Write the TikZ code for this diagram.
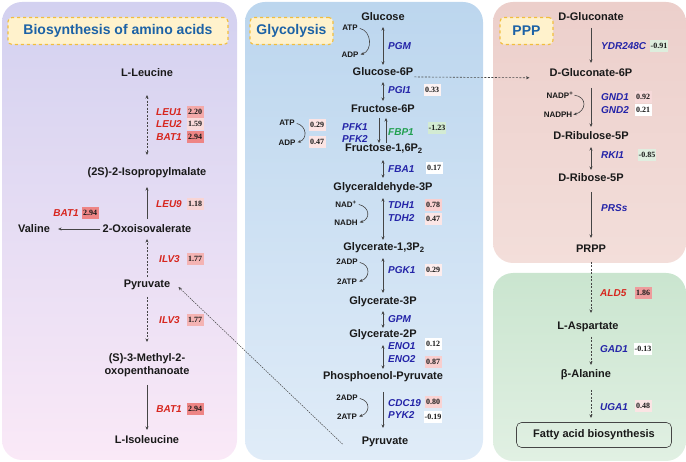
\documentclass[tikz,border=0pt]{standalone}
\usepackage{fontspec}
\setmainfont{Liberation Sans}
\newfontfamily\numfont{Liberation Serif}
\usepackage{tikz}
\usetikzlibrary{arrows.meta,shapes}
\definecolor{cRed}{HTML}{D7261E}
\definecolor{cBlue}{HTML}{2424A8}
\definecolor{cGreen}{HTML}{21A04F}
\definecolor{cLine}{HTML}{454545}
\definecolor{cTitle}{HTML}{1C62A6}
\definecolor{cEdge}{HTML}{F2BE3C}
\definecolor{cFill}{HTML}{FFF2CC}
\tikzset{metab/.style={font=\fontsize{11}{13}\selectfont\bfseries, inner sep=0pt},
  gene/.style={font=\fontsize{10}{12}\selectfont\bfseries\itshape, text=cBlue, inner sep=0pt},
  genered/.style={gene, text=cRed},
  genegreen/.style={gene, text=cGreen},
  fcbox/.style={font=\numfont\fontsize{8}{9}\selectfont\bfseries, minimum width=17pt, minimum height=12.5pt, inner sep=0.5pt},
  cofac/.style={font=\fontsize{8}{9}\selectfont\bfseries, inner sep=0pt},
  headbox/.style={draw=cEdge, dashed, line width=1.1pt, fill=cFill, rounded corners=4pt, minimum height=27pt, font=\fontsize{14}{16}\selectfont\bfseries, text=cTitle},
  rxn/.style={draw=cLine, line width=0.6pt},
  rxndash/.style={rxn, dash pattern=on 2pt off 1.5pt}}

\begin{document}
\begin{tikzpicture}[x=1pt, y=-1pt, >={Stealth[length=3.5pt,width=3pt]},
    every node/.style={text=black!90}]
  \useasboundingbox (0,0) rectangle (686,462);
  \shade[top color={rgb,255:red,211;green,209;blue,240}, bottom color={rgb,255:red,250;green,233;blue,247}, rounded corners=20pt] (2,2) rectangle (237,460);
  \shade[top color={rgb,255:red,188;green,214;blue,238}, bottom color={rgb,255:red,224;green,236;blue,248}, rounded corners=20pt] (245,2) rectangle (483,460);
  \shade[top color={rgb,255:red,236;green,207;blue,203}, bottom color={rgb,255:red,243;green,222;blue,218}, rounded corners=20pt] (493,2) rectangle (686,263);
  \shade[top color={rgb,255:red,202;green,229;blue,207}, bottom color={rgb,255:red,225;green,240;blue,227}, rounded corners=20pt] (493,273) rectangle (686,461);

  \node[headbox, minimum width=220pt] (hA) at (118,31) {Biosynthesis of amino acids};
  \node[headbox, minimum width=83pt] (hB) at (291.5,31) {Glycolysis};
  \node[headbox, minimum width=53pt] (hC) at (526.5,31) {PPP};

  \node[metab] (leu) at (147,73) {L-Leucine};
  \node[metab] (ipm) at (147,173) {(2S)-2-Isopropylmalate};
  \node[metab] (oxo) at (147,229) {2-Oxoisovalerate};
  \node[metab] (val) at (34,229) {Valine};
  \node[metab] (pyrA) at (147,285) {Pyruvate};
  \node[metab, align=center] (mop) at (147,365) {(S)-3-Methyl-2-\\oxopenthanoate};
  \node[metab] (ile) at (147,440) {L-Isoleucine};

  \node[genered, anchor=east] (leu1) at (182,112) {LEU1};
  \node[fcbox, fill={rgb,255:red,244;green,169;blue,169}] (leu1v) at (195,112) {2.20};
  \node[genered, anchor=east] (leu2) at (182,124) {LEU2};
  \node[fcbox, fill={rgb,255:red,249;green,218;blue,218}] (leu2v) at (195,124) {1.59};
  \node[genered, anchor=east] (bat1a) at (182,137) {BAT1};
  \node[fcbox, fill={rgb,255:red,238;green,133;blue,133}] (bat1av) at (195,137) {2.94};
  \node[genered, anchor=east] (leu9) at (182,204) {LEU9};
  \node[fcbox, fill={rgb,255:red,248;green,213;blue,213}] (leu9v) at (195,204) {1.18};
  \node[genered, anchor=east] (bat1b) at (79,213) {BAT1};
  \node[fcbox, fill={rgb,255:red,238;green,133;blue,133}] (bat1bv) at (90,213) {2.94};
  \node[genered, anchor=east] (ilv3a) at (180,259) {ILV3};
  \node[fcbox, fill={rgb,255:red,244;green,179;blue,179}] (ilv3av) at (195,259) {1.77};
  \node[genered, anchor=east] (ilv3b) at (180,320) {ILV3};
  \node[fcbox, fill={rgb,255:red,244;green,179;blue,179}] (ilv3bv) at (195,320) {1.77};
  \node[genered, anchor=east] (bat1c) at (182,409) {BAT1};
  \node[fcbox, fill={rgb,255:red,238;green,133;blue,133}] (bat1cv) at (195,409) {2.94};

  \draw[rxndash, <->, shorten <=22pt, shorten >=18pt] (leu.center) -- (ipm.center);
  \draw[rxn, ->, shorten <=10pt, shorten >=14pt] (oxo.center) -- (ipm.center);
  \draw[rxn, ->, shorten <=2pt, shorten >=8pt] (oxo.west) -- (val.east);
  \draw[rxndash, ->, shorten <=8pt, shorten >=10pt] (pyrA.center) -- (oxo.center);
  \draw[rxndash, ->, shorten <=12pt, shorten >=23pt] (pyrA.center) -- (mop.center);
  \draw[rxn, ->, shorten <=20pt, shorten >=10pt] (mop.center) -- (ile.center);

  \node[metab] (glc) at (383,17) {Glucose};
  \node[metab] (g6p) at (383,72) {Glucose-6P};
  \node[metab] (f6p) at (383,109) {Fructose-6P};
  \node[metab] (fbp) at (384,149) {Fructose-1,6P\textsubscript{2}};
  \node[metab] (gap) at (383,188) {Glyceraldehyde-3P};
  \node[metab] (bpg) at (384,248) {Glycerate-1,3P\textsubscript{2}};
  \node[metab] (g3p) at (383,302) {Glycerate-3P};
  \node[metab] (g2p) at (383,335) {Glycerate-2P};
  \node[metab] (pep) at (383,377) {Phosphoenol-Pyruvate};
  \node[metab] (pyr) at (385,442) {Pyruvate};

  \node[cofac] (atp1) at (350,28) {ATP};
  \node[cofac] (adp1) at (350,55) {ADP};
  \node[cofac] (atp2) at (287,123) {ATP};
  \node[cofac] (adp2) at (287,143) {ADP};
  \node[cofac] (nad) at (346,204) {NAD\textsuperscript{+}};
  \node[cofac] (nadh) at (346,223) {NADH};
  \node[cofac] (adp3) at (347,262) {2ADP};
  \node[cofac] (atp3) at (347,282) {2ATP};
  \node[cofac] (adp4) at (347,398) {2ADP};
  \node[cofac] (atp4) at (347,417) {2ATP};

  \node[gene, anchor=west] (pgm) at (388,46) {PGM};
  \node[gene, anchor=west] (pgi1) at (388,90) {PGI1};
  \node[fcbox, fill={rgb,255:red,253;green,243;blue,243}] (pgi1v) at (432,90) {0.33};
  \node[gene, anchor=east] (pfk1) at (368,127) {PFK1};
  \node[gene, anchor=east] (pfk2) at (368,139) {PFK2};
  \node[fcbox, fill={rgb,255:red,252;green,228;blue,228}] (pfk1v) at (317,125) {0.29};
  \node[fcbox, fill={rgb,255:red,252;green,228;blue,228}] (pfk2v) at (317,142) {0.47};
  \node[genegreen, anchor=west] (fbp1) at (388,132) {FBP1};
  \node[fcbox, fill={rgb,255:red,211;green,235;blue,211}] (fbp1v) at (437,128) {-1.23};
  \node[gene, anchor=west] (fba1) at (388,169) {FBA1};
  \node[fcbox, fill=white] (fba1v) at (434,168) {0.17};
  \node[gene, anchor=west] (tdh1) at (388,205) {TDH1};
  \node[fcbox, fill={rgb,255:red,249;green,208;blue,208}] (tdh1v) at (433,205) {0.78};
  \node[gene, anchor=west] (tdh2) at (388,218) {TDH2};
  \node[fcbox, fill={rgb,255:red,252;green,230;blue,230}] (tdh2v) at (433,219) {0.47};
  \node[gene, anchor=west] (pgk1) at (388,270) {PGK1};
  \node[fcbox, fill={rgb,255:red,253;green,237;blue,237}] (pgk1v) at (433,270) {0.29};
  \node[gene, anchor=west] (gpm) at (388,319) {GPM};
  \node[gene, anchor=west] (eno1) at (388,346) {ENO1};
  \node[fcbox, fill=white] (eno1v) at (433,344) {0.12};
  \node[gene, anchor=west] (eno2) at (388,359) {ENO2};
  \node[fcbox, fill={rgb,255:red,248;green,206;blue,206}] (eno2v) at (433,362) {0.87};
  \node[gene, anchor=west] (cdc19) at (388,403) {CDC19};
  \node[fcbox, fill={rgb,255:red,249;green,211;blue,211}] (cdc19v) at (433,402) {0.80};
  \node[gene, anchor=west] (pyk2) at (388,415) {PYK2};
  \node[fcbox, fill=white] (pyk2v) at (433,417) {-0.19};

  \draw[rxn, <->, shorten <=10pt, shorten >=7pt] (glc.center) -- (g6p.center);
  \draw[rxn, <->, shorten <=10pt, shorten >=8pt] (g6p.center) -- (f6p.center);
  \draw[rxn, ->, shorten <=9pt, shorten >=6pt] ([xshift=-4pt]f6p.center) -- ([xshift=-5pt]fbp.center);
  \draw[rxn, <-, shorten <=9pt, shorten >=6pt] ([xshift=3pt]f6p.center) -- ([xshift=2pt]fbp.center);
  \draw[rxn, <->, shorten <=11pt, shorten >=10pt] ([xshift=-1pt]fbp.center) -- (gap.center);
  \draw[rxn, <->, shorten <=10pt, shorten >=8pt] (gap.center) -- ([xshift=-1pt]bpg.center);
  \draw[rxn, <->, shorten <=10pt, shorten >=9pt] ([xshift=-1pt]bpg.center) -- (g3p.center);
  \draw[rxn, <->, shorten <=9pt, shorten >=7pt] (g3p.center) -- (g2p.center);
  \draw[rxn, <->, shorten <=10pt, shorten >=8pt] (g2p.center) -- (pep.center);
  \draw[rxn, ->, shorten <=15pt, shorten >=14pt] (pep.center) -- ([xshift=-2pt]pyr.center);

  \draw[rxn, ->, shorten <=2pt, shorten >=2pt] (atp1.east) .. controls +(14,3) and +(14,-4) .. (adp1.east);
  \draw[rxn, ->, shorten <=2pt, shorten >=2pt] (atp2.east) .. controls +(12,3) and +(12,-4) .. (adp2.east);
  \draw[rxn, ->, shorten <=2pt, shorten >=2pt] (nad.east) .. controls +(13,3) and +(13,-4) .. (nadh.east);
  \draw[rxn, ->, shorten <=2pt, shorten >=2pt] (adp3.east) .. controls +(13,3) and +(13,-4) .. (atp3.east);
  \draw[rxn, ->, shorten <=2pt, shorten >=2pt] (adp4.east) .. controls +(13,3) and +(13,-4) .. (atp4.east);

  \node[metab] (dglc) at (591,17) {D-Gluconate};
  \node[metab] (dg6p) at (591,73) {D-Gluconate-6P};
  \node[metab] (ru5p) at (591,136) {D-Ribulose-5P};
  \node[metab] (r5p) at (591,178) {D-Ribose-5P};
  \node[metab] (prpp) at (591,249) {PRPP};
  \node[metab] (asp) at (588,327) {L-Aspartate};
  \node[metab] (bala) at (586,375) {β-Alanine};
  \node[metab, draw=cLine, line width=0.6pt, rounded corners=5pt, minimum width=155pt, minimum height=25pt] (fab) at (594,435) {Fatty acid biosynthesis};

  \node[cofac] (nadp) at (560,95) {NADP\textsuperscript{+}};
  \node[cofac] (nadph) at (558,115) {NADPH};
  \draw[rxn, ->, shorten <=1pt, shorten >=1pt] (nadp.east) .. controls +(14,2) and +(14,-4) .. (nadph.east);

  \node[gene, anchor=west] (ydr) at (601,46) {YDR248C};
  \node[fcbox, fill={rgb,255:red,221;green,238;blue,221}] (ydrv) at (659,46) {-0.91};
  \node[gene, anchor=west] (gnd1) at (601,97) {GND1};
  \node[fcbox, fill={rgb,255:red,246;green,217;blue,217}] (gnd1v) at (643,97) {0.92};
  \node[gene, anchor=west] (gnd2) at (601,110) {GND2};
  \node[fcbox, fill=white] (gnd2v) at (643,110) {0.21};
  \node[gene, anchor=west] (rki1) at (601,155) {RKI1};
  \node[fcbox, fill={rgb,255:red,224;green,238;blue,224}] (rki1v) at (647,155) {-0.85};
  \node[gene, anchor=west] (prs) at (601,208) {PRSs};
  \node[genered, anchor=west] (ald5) at (600,293) {ALD5};
  \node[fcbox, fill={rgb,255:red,238;green,156;blue,156}] (ald5v) at (643,293) {1.86};
  \node[gene, anchor=west] (gad1) at (600,349) {GAD1};
  \node[fcbox, fill=white] (gad1v) at (643,349) {-0.13};
  \node[gene, anchor=west] (uga1) at (600,407) {UGA1};
  \node[fcbox, fill={rgb,255:red,251;green,228;blue,228}] (uga1v) at (643,406) {0.48};

  \draw[rxn, ->, shorten <=11pt, shorten >=10pt] (dglc.center) -- (dg6p.center);
  \draw[rxn, ->, shorten <=15pt, shorten >=9pt] (dg6p.center) -- (ru5p.center);
  \draw[rxn, <->, shorten <=11pt, shorten >=8pt] (ru5p.center) -- (r5p.center);
  \draw[rxn, ->, shorten <=14pt, shorten >=11pt] (r5p.center) -- (prpp.center);
  \draw[rxndash, ->, shorten <=13pt, shorten >=14pt] (prpp.center) -- ([xshift=3pt]asp.center);
  \draw[rxndash, ->, shorten <=10pt, shorten >=10pt] ([xshift=3pt]asp.center) -- ([xshift=5pt]bala.center);
  \draw[rxndash, ->, shorten <=15pt, shorten >=17pt] ([xshift=5pt]bala.center) -- ([xshift=-3pt]fab.center);

  \draw[rxndash, ->, shorten <=1pt, shorten >=20pt] ([yshift=-1pt]g6p.base east) -- ([yshift=-1pt]dg6p.base west);
  \draw[draw=cLine, line width=0.5pt, dash pattern=on 1.5pt off 1pt, ->] ([xshift=-19pt,yshift=3pt]pyr.south west) -- ([xshift=8pt,yshift=-2pt]pyrA.east);
\end{tikzpicture}
\end{document}
